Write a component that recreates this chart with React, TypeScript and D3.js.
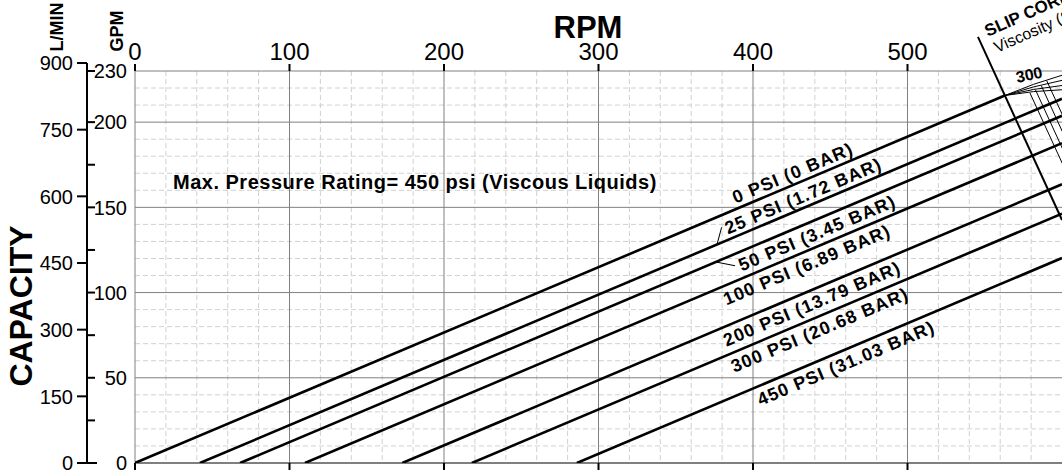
import React, { useEffect, useRef } from 'react';
import * as d3 from 'd3';

const W = 1062;
const H = 474;

// axes
const rpmTicks = [0, 100, 200, 300, 400, 500];
const gpmTicks = [0, 50, 100, 150, 200, 230];
const gpmMinorTicks = [25, 75, 125, 175];
const lpmTicks = [0, 150, 300, 450, 600, 750, 900];

// pressure lines: capacity = displacement * (rpm - zeroFlowRpm)
const displacement = 0.383; // GPM per rev
const pressureLabels = [
    '0 PSI (0 BAR)',
    '25 PSI (1.72 BAR)',
    '50 PSI (3.45 BAR)',
    '100 PSI (6.89 BAR)',
    '200 PSI (13.79 BAR)',
    '300 PSI (20.68 BAR)',
    '450 PSI (31.03 BAR)',
];
const zeroFlowRpm = [0, 42, 68, 110, 173, 218, 286];
const labelRpm = [390, 385, 388, 378, 378, 383, 400];
const labelSide = [-1, -1, 1, 1, 1, 1, 1]; // -1 above the line, 1 below

// slip correction box edge (rpm, gpm)
const slipEdge: [number, number][] = [[545.6, 250], [600, 142.6]];
const viscosityShift = [17, 21.5, 26.5, 31.5]; // rpm shift from the edge
const fanEndGpm = [219, 221.5, 224.5, 227.5];

type Pt = [number, number];

function intersect(a: Pt, b: Pt, c: Pt, d: Pt): Pt {
    const d1x = b[0] - a[0], d1y = b[1] - a[1];
    const d2x = d[0] - c[0], d2y = d[1] - c[1];
    const den = d1x * d2y - d1y * d2x;
    const t = ((c[0] - a[0]) * d2y - (c[1] - a[1]) * d2x) / den;
    return [a[0] + t * d1x, a[1] + t * d1y];
}

const Chart: React.FC = () => {
    const svgRef = useRef<SVGSVGElement | null>(null);

    useEffect(() => {
        if (!svgRef.current) return;
        const svg = d3.select(svgRef.current);
        svg.selectAll('*').remove();
        const font = '"Liberation Sans", Arial, Helvetica, sans-serif';

        const x = d3.scaleLinear().domain([0, 600]).range([135, 1062]);
        const y = d3.scaleLinear().domain([0, 230]).range([463, 71]);
        const yL = d3.scaleLinear().domain([0, 900]).range([463, 63]);

        svg.append('rect').attr('width', W).attr('height', H).attr('fill', '#fff');

        svg.append('clipPath').attr('id', 'plot')
            .append('rect')
            .attr('x', x(0)).attr('y', y(230))
            .attr('width', x(600) - x(0)).attr('height', y(0) - y(230));

        // grid
        const grid = svg.append('g');
        const minorX = d3.range(20, 601, 20).filter((v) => v % 100 !== 0);
        const minorY = d3.range(10, 230, 10).filter((v) => v % 50 !== 0);
        grid.selectAll('.mx').data(minorX).enter().append('line')
            .attr('x1', (d) => x(d)).attr('x2', (d) => x(d))
            .attr('y1', y(230)).attr('y2', y(0))
            .attr('stroke', '#d0d0d0').attr('stroke-dasharray', '5,3');
        grid.selectAll('.my').data(minorY).enter().append('line')
            .attr('x1', x(0)).attr('x2', x(600))
            .attr('y1', (d) => y(d)).attr('y2', (d) => y(d))
            .attr('stroke', '#d0d0d0').attr('stroke-dasharray', '5,3');
        grid.selectAll('.sx').data(rpmTicks).enter().append('line')
            .attr('x1', (d) => x(d)).attr('x2', (d) => x(d))
            .attr('y1', y(230)).attr('y2', y(0))
            .attr('stroke', '#808080');
        grid.selectAll('.sy').data([50, 100, 150, 200, 230]).enter().append('line')
            .attr('x1', x(0)).attr('x2', x(600))
            .attr('y1', (d) => y(d)).attr('y2', (d) => y(d))
            .attr('stroke', '#808080');
        grid.append('line')
            .attr('x1', x(0)).attr('x2', x(600)).attr('y1', y(0)).attr('y2', y(0))
            .attr('stroke', '#555').attr('stroke-width', 1.5);

        // rpm ticks top and bottom
        svg.selectAll('.tt').data(rpmTicks).enter().append('line')
            .attr('x1', (d) => x(d)).attr('x2', (d) => x(d))
            .attr('y1', y(230) - 7).attr('y2', y(230))
            .attr('stroke', '#000').attr('stroke-width', 2);
        svg.selectAll('.tb').data(rpmTicks).enter().append('line')
            .attr('x1', (d) => x(d)).attr('x2', (d) => x(d))
            .attr('y1', y(0)).attr('y2', y(0) + 7)
            .attr('stroke', '#000').attr('stroke-width', 2);
        svg.selectAll('.tl').data(rpmTicks).enter().append('text')
            .attr('x', (d) => x(d)).attr('y', 60)
            .attr('text-anchor', 'middle')
            .attr('font-family', font).attr('font-size', 24)
            .text((d) => d);

        svg.append('text').attr('x', 588).attr('y', 38)
            .attr('text-anchor', 'middle')
            .attr('font-family', font).attr('font-size', 31).attr('font-weight', 'bold')
            .text('RPM');

        // left capacity axis
        const axX = 87;
        svg.append('line')
            .attr('x1', axX).attr('x2', axX).attr('y1', yL(900)).attr('y2', y(0))
            .attr('stroke', '#000').attr('stroke-width', 2);
        svg.selectAll('.lt').data(lpmTicks).enter().append('line')
            .attr('x1', axX - 10).attr('x2', axX)
            .attr('y1', (d) => yL(d)).attr('y2', (d) => yL(d))
            .attr('stroke', '#000').attr('stroke-width', 2);
        svg.selectAll('.ll').data(lpmTicks).enter().append('text')
            .attr('x', 73).attr('y', (d) => yL(d)).attr('dy', '0.36em')
            .attr('text-anchor', 'end')
            .attr('font-family', font).attr('font-size', 20)
            .text((d) => d);
        svg.selectAll('.gt').data([...gpmTicks, ...gpmMinorTicks]).enter().append('line')
            .attr('x1', axX).attr('x2', (d) => (d === 0 ? axX + 10 : axX + 8))
            .attr('y1', (d) => y(d)).attr('y2', (d) => y(d))
            .attr('stroke', '#000').attr('stroke-width', 2);
        svg.selectAll('.gl').data(gpmTicks).enter().append('text')
            .attr('x', 127).attr('y', (d) => y(d)).attr('dy', '0.36em')
            .attr('text-anchor', 'end')
            .attr('font-family', font).attr('font-size', 20)
            .text((d) => d);

        const vlabel = (tx: number, ty: number, size: number, t: string) =>
            svg.append('text')
                .attr('transform', `translate(${tx},${ty}) rotate(-90)`)
                .attr('text-anchor', 'middle')
                .attr('font-family', font).attr('font-size', size).attr('font-weight', 'bold')
                .text(t);
        vlabel(63, 27, 18, 'L/MIN');
        vlabel(123, 31, 18, 'GPM');
        vlabel(32, 306, 32, 'CAPACITY');

        svg.append('text').attr('x', 173).attr('y', 189)
            .attr('font-family', font).attr('font-size', 20).attr('font-weight', 'bold')
            .attr('letter-spacing', 0.5)
            .text('Max. Pressure Rating= 450 psi (Viscous Liquids)');

        // pressure lines
        const edgeA: Pt = [x(slipEdge[0][0]), y(slipEdge[0][1])];
        const edgeB: Pt = [x(slipEdge[1][0]), y(slipEdge[1][1])];
        const angle = (Math.atan2(y(displacement * 100) - y(0), x(100) - x(0)) * 180) / Math.PI;
        const linesG = svg.append('g').attr('clip-path', 'url(#plot)');
        let topJoin: Pt = [0, 0];
        zeroFlowRpm.forEach((r0, i) => {
            const p0: Pt = [x(r0), y(0)];
            let p1: Pt = [x(600), y(displacement * (600 - r0))];
            if (i === 0) {
                p1 = intersect(p0, p1, edgeA, edgeB);
                topJoin = p1;
            }
            linesG.append('line')
                .attr('x1', p0[0]).attr('y1', p0[1]).attr('x2', p1[0]).attr('y2', p1[1])
                .attr('stroke', '#000').attr('stroke-width', 2.6);

            const r = labelRpm[i];
            const lg = svg.append('g')
                .attr('transform', `translate(${x(r)},${y(displacement * (r - r0))}) rotate(${angle})`);
            lg.append('text')
                .attr('x', 0).attr('y', labelSide[i] < 0 ? -5 : 19)
                .attr('font-family', font).attr('font-size', 18).attr('font-weight', 'bold')
                .attr('letter-spacing', 1.1)
                .text(pressureLabels[i]);
            if (i === 1) {
                lg.append('line').attr('x1', -14).attr('y1', 0).attr('x2', -3).attr('y2', -14)
                    .attr('stroke', '#000').attr('stroke-width', 1);
            }
            if (i === 2) {
                lg.append('line').attr('x1', -20).attr('y1', 0).attr('x2', -4).attr('y2', 11)
                    .attr('stroke', '#000').attr('stroke-width', 1);
            }
        });

        // slip correction box
        svg.append('line')
            .attr('x1', edgeA[0]).attr('y1', edgeA[1]).attr('x2', edgeB[0]).attr('y2', edgeB[1])
            .attr('stroke', '#000').attr('stroke-width', 2);
        fanEndGpm.forEach((g, i) => {
            const end: Pt = [x(600), y(g)];
            const mid: Pt = [(topJoin[0] + end[0]) / 2, (topJoin[1] + end[1]) / 2 - 2];
            const p = d3.path();
            p.moveTo(topJoin[0], topJoin[1]);
            p.quadraticCurveTo(mid[0], mid[1], end[0], end[1]);
            svg.append('path').attr('d', p.toString())
                .attr('fill', 'none').attr('stroke', '#000').attr('stroke-width', 1);
            const s = viscosityShift[i];
            const va: Pt = [x(slipEdge[0][0] + s), y(slipEdge[0][1])];
            const vb: Pt = [x(slipEdge[1][0] + s), y(slipEdge[1][1])];
            const start = intersect(va, vb, topJoin, end);
            svg.append('line')
                .attr('x1', start[0]).attr('y1', start[1]).attr('x2', vb[0]).attr('y2', vb[1])
                .attr('stroke', '#000').attr('stroke-width', 1);
        });
        svg.append('text')
            .attr('transform', `translate(${x(552)},${y(250)}) rotate(-24)`)
            .attr('font-family', font).attr('font-size', 17).attr('font-weight', 'bold')
            .text('SLIP CORRECTION');
        svg.append('text')
            .attr('transform', `translate(${x(558)},${y(240.6)}) rotate(-24)`)
            .attr('font-family', font).attr('font-size', 16)
            .text('Viscosity (SSU)');
        svg.append('text')
            .attr('transform', `translate(${x(571)},${y(223)}) rotate(-12)`)
            .attr('font-family', font).attr('font-size', 16).attr('font-weight', 'bold')
            .text('300');
    }, []);

    return <svg ref={svgRef} width={W} height={H}></svg>;
};

const App: React.FC = () => (
    <div style={{ position: 'absolute', left: 0, top: 0 }}>
        <Chart />
    </div>
);

export default App;
